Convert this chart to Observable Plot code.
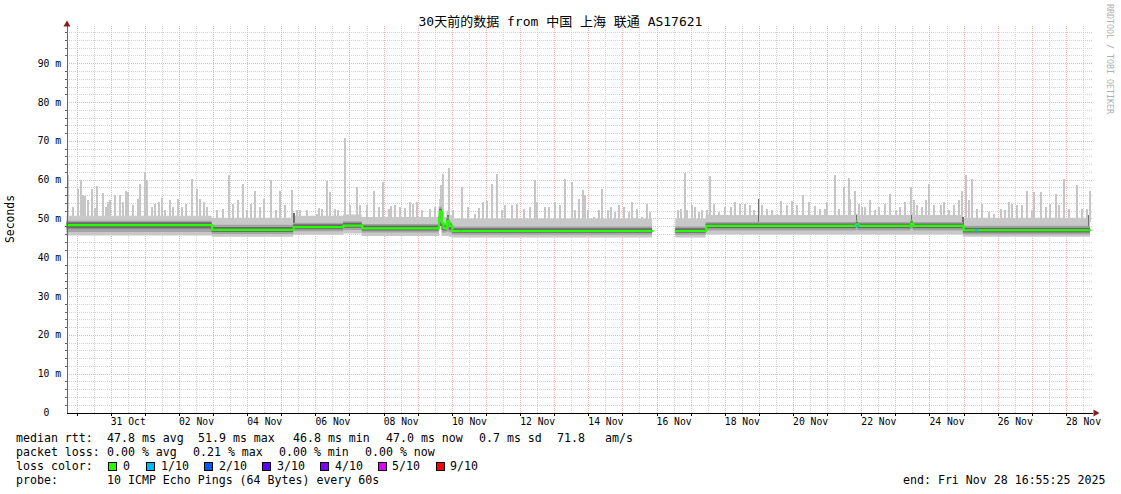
<!DOCTYPE html>
<html><head><meta charset="utf-8">
<script src="https://cdn.jsdelivr.net/npm/d3@7"></script>
<script src="https://cdn.jsdelivr.net/npm/@observablehq/plot@0.6"></script>
<style>
body{margin:0;background:#fff;}
#wrap{position:relative;width:1121px;height:494px;overflow:hidden;font-family:"DejaVu Sans Mono",monospace;color:#000;background:#fff;}
#wrap svg{position:absolute;left:0;top:0;}
#wrap svg [aria-label$="grid"], #wrap svg [aria-label="rule"], #wrap svg [aria-label$="tick"] {shape-rendering:crispEdges;}
.t{position:absolute;white-space:pre;font-size:11.6px;line-height:14px;height:14px;}
.box{position:absolute;width:7px;height:7px;border:1px solid #000;}
#title{position:absolute;left:0;top:14px;width:1121px;text-align:center;font-size:13px;line-height:16px;white-space:pre;font-family:"DejaVu Sans Mono","Noto Sans CJK SC",monospace;}
#ylab{position:absolute;left:-20px;top:212px;width:60px;text-align:center;font-size:11.4px;line-height:14px;transform:rotate(-90deg);}
#wm{position:absolute;left:1105px;top:4px;writing-mode:vertical-rl;font-size:8.3px;color:#b0b0b0;white-space:pre;}
</style>
</head><body>
<div id="wrap"></div>
<script>
// ---- time axis: days counted from 1 Oct 00:00 (31.5 = 31 Oct 12:00) ----
const tStart = 29.705;          // Wed Oct 29 16:55:25
const tEnd = 59.705;            // Fri Nov 28 16:55:25
const tAxisEnd = 59.793;
const xLabelDays = [31.5, 33.5, 35.5, 37.5, 39.5, 41.5, 43.5, 45.5, 47.5, 49.5, 51.5, 53.5, 55.5, 57.5, 59.5];
const xLabels = ["31 Oct","02 Nov","04 Nov","06 Nov","08 Nov","10 Nov","12 Nov","14 Nov","16 Nov","18 Nov","20 Nov","22 Nov","24 Nov","26 Nov","28 Nov"];
const midnights = [30,31,32,33,34,35,36,37,38,39,40,41,42,43,44,45,46,47,48,49,50,51,52,53,54,55,56,57,58,59];
const noons = [30.5,31.5,32.5,33.5,34.5,35.5,36.5,37.5,38.5,39.5,40.5,41.5,42.5,43.5,44.5,45.5,46.5,47.5,48.5,49.5,50.5,51.5,52.5,53.5,54.5,55.5,56.5,57.5,58.5,59.5];
const yMajor = [10,20,30,40,50,60,70,80,90];
const yMinor = [2,4,6,8,12,14,16,18,22,24,26,28,32,34,36,38,42,44,46,48,52,54,56,58,62,64,66,68,72,74,76,78,82,84,86,88,92,94,96,98];
const yTickVals = [0,10,20,30,40,50,60,70,80,90];
const yTickLabels = ["0\u00a0\u00a0","10 m","20 m","30 m","40 m","50 m","60 m","70 m","80 m","90 m"];
const yMax = 99.6;

// ---- median rtt (ms) and smoke bands, stepwise segments ----
const segT    = [29.705,33.96,36.35,37.81,38.36,40.61,40.63,40.70,40.74,40.84,40.91,41.00,46.87,47.55,48.44,52.84,52.90,54.44,54.51,55.98,59.705];
const medianV = [48.4,47.2,47.9,48.3,47.6,50.0,51.9,49.0,47.6,49.5,48.2,46.9,null,46.9,48.2,48.6,48.2,48.8,48.2,47.1];
const outerLo = [45.6,45.3,45.8,46.1,45.5,45.5,48.0,45.5,45.5,45.5,45.3,45.1,null,45.1,45.9,45.9,45.9,45.9,45.9,45.3];
const outerHi = [50.7,50.2,50.7,51.0,50.4,53.0,55.0,51.4,50.4,52.0,50.9,50.0,null,50.0,50.9,51.2,50.9,51.4,50.9,50.2];
const midLo   = [46.5,46.0,46.7,47.0,46.4,46.8,49.0,46.4,46.4,46.6,46.4,45.8,null,45.8,46.9,47.1,46.9,47.3,46.9,45.9];
const midHi   = [49.4,48.4,48.9,49.3,48.6,51.0,53.0,50.2,48.8,50.4,49.1,47.9,null,47.9,49.1,49.5,49.1,49.7,49.1,48.1];
const coreLo  = [47.4,46.5,47.2,47.6,46.9,48.0,50.0,47.0,46.9,48.0,47.0,46.3,null,46.3,47.5,47.9,47.5,48.0,47.5,46.4];
const coreHi  = [49.0,47.8,48.5,48.9,48.2,50.5,52.5,49.6,48.3,50.0,48.7,47.5,null,47.5,48.7,49.1,48.7,49.3,48.7,47.6];

// ---- smoke spikes: [time, max ping ms] ----
const spikes = [
[29.72,61.1],[29.89,52.9],[30.04,57.7],[30.12,59.8],[30.18,56.0],[30.23,55.7],[30.33,54.7],[30.43,57.7],[30.53,52.6],[30.59,58.3],
[30.75,56.5],[30.85,52.9],[30.92,54.2],[30.97,54.7],[31.11,56.0],[31.26,56.0],[31.36,54.2],[31.43,57.2],[31.50,56.8],[31.65,53.4],
[31.80,55.1],[31.85,59.0],[31.99,62.0],[32.06,59.8],[32.19,52.9],[32.29,53.8],[32.41,54.2],[32.48,55.2],[32.58,52.1],[32.73,54.7],
[32.82,52.9],[32.97,55.1],[33.07,52.9],[33.20,53.8],[33.36,60.1],[33.51,57.7],[33.61,55.1],[33.72,54.3],[33.80,52.9],[34.09,52.1],
[34.29,52.5],[34.44,61.1],[34.58,53.8],[34.73,54.7],[34.86,59.0],[34.97,52.1],[35.09,53.8],[35.22,57.2],[35.37,52.9],[35.48,55.1],
[35.68,59.8],[35.83,52.1],[35.95,57.2],[36.10,53.4],[36.29,57.4],[36.46,52.1],[36.54,52.3],[36.73,52.3],[37.03,51.2],
[37.08,52.6],[37.19,52.5],[37.32,59.6],[37.42,56.8],[37.56,52.5],[37.66,52.1],[37.86,70.8],[38.00,53.4],[38.20,58.1],[38.30,53.4],
[38.49,53.4],[38.69,57.2],[38.84,52.9],[38.98,59.4],[39.13,52.5],[39.21,53.1],[39.32,53.4],[39.47,52.9],[39.62,52.8],[39.76,54.2],
[39.86,53.8],[39.96,54.2],[40.11,52.1],[40.35,52.5],[40.50,52.9],[40.66,58.5],[40.74,61.5],[40.89,63.1],[41.03,52.3],[41.28,58.1],
[41.47,52.9],[41.67,51.2],[41.77,52.8],[41.91,54.2],[42.01,54.5],[42.16,59.0],[42.31,61.5],[42.45,52.1],[42.55,53.4],[42.75,53.4],
[42.89,53.8],[43.09,52.5],[43.28,52.9],[43.43,59.8],[43.48,54.2],[43.72,52.9],[43.82,52.9],[44.02,54.2],[44.16,53.4],[44.31,60.3],
[44.50,59.4],[44.60,52.1],[44.70,55.1],[44.83,57.4],[44.90,56.0],[44.99,52.1],[45.14,50.4],[45.29,52.1],[45.40,57.7],[45.55,52.1],
[45.65,52.9],[45.78,51.7],[45.89,53.4],[46.02,52.9],[46.17,51.7],[46.26,54.2],[46.41,52.5],[46.56,50.4],[46.72,53.8],[46.80,51.7],
[47.60,52.3],[47.70,52.5],[47.81,61.8],[47.88,52.1],[48.02,53.4],[48.12,52.9],[48.22,51.7],[48.32,52.3],[48.46,52.1],[48.56,60.9],
[48.66,53.8],[48.81,51.7],[49.00,52.9],[49.17,52.9],[49.29,54.2],[49.44,53.8],[49.59,53.8],[49.73,53.4],[49.83,52.1],[49.98,55.1],
[50.08,53.4],[50.22,52.5],[50.37,52.1],[50.52,51.2],[50.64,54.5],[50.81,53.4],[50.96,54.5],[51.10,53.4],[51.27,56.0],[51.45,54.2],
[51.64,53.1],[51.79,52.5],[51.93,52.5],[51.98,54.2],[52.21,61.1],[52.33,52.5],[52.47,58.1],[52.62,60.4],[52.67,55.1],[52.81,57.2],
[52.91,53.8],[53.01,52.9],[53.11,52.9],[53.25,54.7],[53.40,52.1],[53.50,52.9],[53.69,53.8],[53.84,56.4],[53.99,52.1],[54.13,52.9],
[54.28,54.2],[54.43,58.1],[54.52,54.7],[54.62,53.4],[54.77,52.9],[54.87,54.7],[54.98,59.0],[55.11,53.4],[55.31,53.4],[55.40,54.2],
[55.55,52.1],[55.70,53.4],[55.84,54.7],[55.94,57.2],[56.06,61.3],[56.14,54.7],[56.23,60.3],[56.38,52.5],[56.53,53.8],[56.72,51.7],
[56.87,51.2],[57.07,52.5],[57.21,52.1],[57.31,54.2],[57.41,53.8],[57.55,53.4],[57.70,53.4],[57.85,57.2],[57.99,52.1],[58.04,56.8],
[58.24,56.8],[58.39,52.9],[58.53,53.8],[58.68,56.4],[58.78,53.4],[58.92,60.3],[59.07,52.5],[59.31,58.5],[59.46,52.5],[59.61,52.5],[59.69,57.2]
];
// darker upper pings
const darkSpikes = [[36.36,51.3],[40.67,52.5],[40.87,51.0],[49.98,55.0],[55.97,50.5],[54.46,51.0],[52.84,50.8],[59.65,51.0]];
// median points with 1/10 loss
const lossPts = [[52.88,48.2],[56.36,47.1]];

// ---- build step tables ----
function steps(vals){
  const rows = [];
  for (let i = 0; i < vals.length; i++) {
    const v = vals[i];
    if (v === null) { rows.push({t: segT[i], v: null}); continue; }
    rows.push({t: segT[i], v}); rows.push({t: segT[i+1], v});
  }
  return rows;
}
function bandRows(lo, hi){
  const rows = [];
  for (let i = 0; i < lo.length; i++) {
    if (lo[i] === null) { rows.push({t: segT[i], lo: null, hi: null}); continue; }
    rows.push({t: segT[i], lo: lo[i], hi: hi[i]});
    rows.push({t: segT[i+1], lo: lo[i], hi: hi[i]});
  }
  return rows;
}
const outer = bandRows(outerLo, outerHi), mid = bandRows(midLo, midHi), core = bandRows(coreLo, coreHi);
const med = steps(medianV);
const xLabelMap = new Map(xLabelDays.map((d,i)=>[d, xLabels[i]]));
const yLabelMap = new Map(yTickVals.map((d,i)=>[d, yTickLabels[i]]));

const dash = "1,1";
const chart = Plot.plot({
  width: 1121, height: 432,
  marginLeft: 66.5, marginRight: 28, marginTop: 26, marginBottom: 19.5,
  style: {fontFamily: "DejaVu Sans Mono", fontSize: "9.7px", background: "transparent", color: "#000", overflow: "visible"},
  x: {type: "linear", domain: [tStart, tAxisEnd], label: null},
  y: {domain: [0, yMax], label: null},
  marks: [
    Plot.gridY(yMinor, {stroke: "#d4d4d4", strokeOpacity: 1, strokeDasharray: dash}),
    Plot.gridX(noons, {stroke: "#d4d4d4", strokeOpacity: 1, strokeDasharray: dash}),
    Plot.gridY(yMajor, {stroke: "#f5b2b2", strokeOpacity: 1, strokeDasharray: dash}),
    Plot.gridX(midnights, {stroke: "#f5b2b2", strokeOpacity: 1, strokeDasharray: dash}),
    Plot.ruleX(spikes, {x: d => d[0], y1: 49, y2: d => d[1], stroke: "#c6c6c6", strokeWidth: 2}),
    Plot.areaY(outer, {x: "t", y1: "lo", y2: "hi", fill: "#c8c8c8"}),
    Plot.ruleX(darkSpikes, {x: d => d[0], y1: 48, y2: d => d[1], stroke: "#6e6e6e", strokeWidth: 1.2}),
    Plot.areaY(mid, {x: "t", y1: "lo", y2: "hi", fill: "#a4a4a4"}),
    Plot.areaY(core, {x: "t", y1: "lo", y2: "hi", fill: "#6a6a6a"}),
    Plot.line(med, {x: "t", y: "v", stroke: "#26ff00", strokeWidth: 2.2}),
    Plot.dot(lossPts, {x: d => d[0], y: d => d[1], r: 1.4, fill: "#00b8ff", stroke: null}),
    Plot.ruleX([tStart], {y1: 0, y2: yMax, stroke: "#666", strokeWidth: 1}),
    Plot.ruleY([0], {stroke: "#000", strokeWidth: 1}),
    Plot.dot([[tStart, yMax]], {x: d => d[0], y: d => d[1], symbol: "triangle", r: 2.6, fill: "#8b1a1a", stroke: null, dy: -2}),
    Plot.dot([[tAxisEnd, 0]], {x: d => d[0], y: d => d[1], symbol: "triangle", rotate: 90, r: 2.6, fill: "#8b1a1a", stroke: null, dx: 2}),
    Plot.axisX(midnights, {tickSize: 3, tickFormat: () => "", stroke: "#000"}),
    Plot.axisX(xLabelDays, {tickSize: 0, tickPadding: 5, tickFormat: d => xLabelMap.get(d), fill: "#000"}),
    Plot.axisY(yMinor, {tickSize: 2, tickFormat: () => "", stroke: "#666"}),
    Plot.axisY(yTickVals, {tickSize: 0, tickPadding: 6, tickFormat: d => yLabelMap.get(d), fill: "#000"})
  ]
});
const wrap = document.getElementById("wrap");
wrap.appendChild(chart);

function addText(x, yc, s, cls){
  const d = document.createElement("div");
  d.className = cls || "t"; d.style.left = x + "px"; d.style.top = (yc - 7) + "px"; d.textContent = s;
  wrap.appendChild(d);
}
const title = document.createElement("div"); title.id = "title"; title.textContent = "30天前的数据 from 中国 上海 联通 AS17621"; wrap.appendChild(title);
const yl = document.createElement("div"); yl.id = "ylab"; yl.textContent = "Seconds"; wrap.appendChild(yl);
const wm = document.createElement("div"); wm.id = "wm"; wm.textContent = "RRDTOOL / TOBI OETIKER"; wrap.appendChild(wm);

const line1 = [[16,"median rtt:"],[107,"47.8 ms avg"],[198,"51.9 ms max"],[293,"46.8 ms min"],[386,"47.0 ms now"],[479,"0.7 ms sd"],[557,"71.8"],[605,"am/s"]];
const line2 = [[16,"packet loss:"],[107,"0.00 % avg"],[193,"0.21 % max"],[279,"0.00 % min"],[365,"0.00 % now"]];
const lossLabels = ["0","1/10","2/10","3/10","4/10","5/10","9/10"];
const lossColors = ["#26ff00","#00b8ff","#0059ff","#5e00ff","#7e00ff","#dd00ff","#ff0000"];
const lossBoxX = [108,146,204,262,320,378,436];
const lossTextX = [123,161,219,277,335,392,450];
const line4 = [[16,"probe:"],[107,"10 ICMP Echo Pings (64 Bytes) every 60s"],[903,"end: Fri Nov 28 16:55:25 2025"]];
line1.forEach(([x,s]) => addText(x, 438, s));
line2.forEach(([x,s]) => addText(x, 452, s));
addText(16, 466, "loss color:");
lossLabels.forEach((s,i) => {
  const b = document.createElement("div"); b.className = "box";
  b.style.left = lossBoxX[i] + "px"; b.style.top = "462px"; b.style.background = lossColors[i];
  wrap.appendChild(b);
  addText(lossTextX[i], 466, s);
});
line4.forEach(([x,s]) => addText(x, 480, s));
</script>
</body></html>
